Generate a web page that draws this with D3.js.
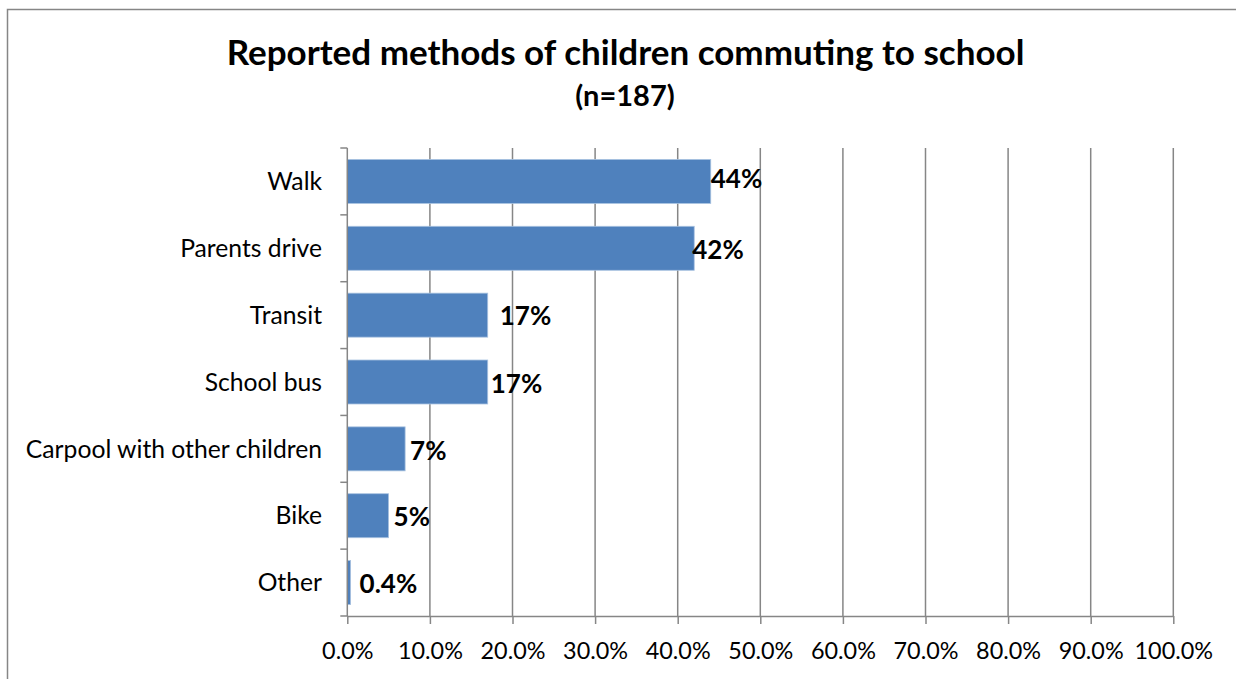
<!DOCTYPE html>
<html>
<head>
<meta charset="utf-8">
<script src="https://cdn.jsdelivr.net/npm/d3@7"></script>
<style>
  html, body { margin: 0; padding: 0; background: #fff; }
  svg { display: block; }
  text { font-family: Lato, "Open Sans", sans-serif; fill: #000; }
</style>
</head>
<body>
<svg id="chart" width="1236" height="679"></svg>
<script>
// Survey results: share of children using each commuting method
const categories = ["Walk", "Parents drive", "Transit", "School bus", "Carpool with other children", "Bike", "Other"];
const shares = [0.44, 0.42, 0.17, 0.17, 0.07, 0.05, 0.004];
const valueLabels = ["44%", "42%", "17%", "17%", "7%", "5%", "0.4%"];
const tickValues = [0, 0.1, 0.2, 0.3, 0.4, 0.5, 0.6, 0.7, 0.8, 0.9, 1.0];
const titleText = "Reported methods of children commuting to school";
const subtitleText = "(n=187)";

// small hand placement tweaks for the value labels (dx, dy in px)
const labelNudge = [[0, -3], [-2, 1.5], [12, 1], [3, 2], [5, 2], [5, 1], [9, 1]];

const svg = d3.select("#chart");
const W = 1236, H = 679;
const plot = { left: 347.3, right: 1173.3, top: 148, bottom: 616 };

// outer chart frame
svg.append("rect")
  .attr("x", 7.5).attr("y", 9.5)
  .attr("width", W + 10).attr("height", H + 10)
  .attr("fill", "#fff").attr("stroke", "#868686").attr("stroke-width", 1.5);

const x = d3.scaleLinear().domain([0, 1]).range([plot.left, plot.right]);
const pad = 0.342;
const y = d3.scaleBand().domain(categories).range([plot.top, plot.bottom])
  .paddingInner(pad).paddingOuter(pad / 2);

// title
svg.append("text")
  .attr("x", 625.5).attr("y", 65)
  .attr("text-anchor", "middle")
  .style("font-weight", "bold").style("font-size", "35px")
  .text(titleText);
svg.append("text")
  .attr("x", 625).attr("y", 106)
  .attr("text-anchor", "middle")
  .style("font-weight", "bold").style("font-size", "29px")
  .text(subtitleText);

// vertical gridlines
svg.append("g").selectAll("line")
  .data(tickValues.filter(d => d > 0))
  .join("line")
  .attr("x1", d => x(d)).attr("x2", d => x(d))
  .attr("y1", plot.top).attr("y2", plot.bottom)
  .attr("stroke", "#868686").attr("stroke-width", 1.5);

// bars
svg.append("g").selectAll("rect")
  .data(categories)
  .join("rect")
  .attr("x", x(0))
  .attr("y", d => y(d))
  .attr("width", (d, i) => x(shares[i]) - x(0))
  .attr("height", y.bandwidth())
  .attr("fill", "#4F81BD")
  .attr("stroke", "#a9c2e0").attr("stroke-width", 0.8);

// x axis
const xAxis = svg.append("g")
  .attr("transform", `translate(0,${plot.bottom})`)
  .call(d3.axisBottom(x).tickValues(tickValues).tickFormat(d3.format(".1%"))
    .tickSize(8).tickSizeOuter(0).tickPadding(18));
xAxis.select(".domain").attr("stroke", "#868686").attr("stroke-width", 1.5);
xAxis.selectAll(".tick line").attr("stroke", "#868686").attr("stroke-width", 1.5);
xAxis.selectAll(".tick text")
  .style("font-family", "Lato, sans-serif").style("font-size", "23.4px").attr("fill", "#000");

// y axis: category labels plus ticks at band boundaries
const yAxisG = svg.append("g");
yAxisG.append("line")
  .attr("x1", x(0)).attr("x2", x(0))
  .attr("y1", plot.top).attr("y2", plot.bottom)
  .attr("stroke", "#868686").attr("stroke-width", 1.5);
const boundaries = categories.map(c => y(c) - y.step() * pad / 2).concat([plot.bottom]);
yAxisG.selectAll("line.tk")
  .data(boundaries)
  .join("line").attr("class", "tk")
  .attr("x1", x(0) - 7).attr("x2", x(0))
  .attr("y1", d => d).attr("y2", d => d)
  .attr("stroke", "#868686").attr("stroke-width", 1.5);
yAxisG.selectAll("text")
  .data(categories)
  .join("text")
  .attr("x", 322)
  .attr("y", d => y(d) + y.bandwidth() / 2)
  .attr("dy", "0.35em")
  .attr("text-anchor", "end")
  .style("font-size", "24.7px")
  .text(d => d);

// value labels
svg.append("g").selectAll("text")
  .data(categories)
  .join("text")
  .attr("x", (d, i) => x(shares[i]) + labelNudge[i][0])
  .attr("y", (d, i) => y(d) + y.bandwidth() / 2 + labelNudge[i][1])
  .attr("dy", "0.35em")
  .style("font-weight", "bold").style("font-size", "26px")
  .text((d, i) => valueLabels[i]);
</script>
</body>
</html>
